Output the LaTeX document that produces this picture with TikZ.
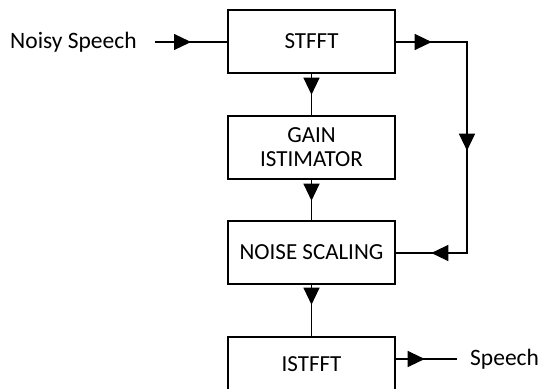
\documentclass[tikz,border=0pt]{standalone}
\usepackage{fontspec}
\setmainfont{Carlito}
\usetikzlibrary{arrows.meta,decorations.markings}

\begin{document}
\begin{tikzpicture}[x={(1pt, 0pt)}, y={(0pt, -1pt)}]
  \tikzstyle{block}=[draw, line width=1.4pt, minimum width=167pt, minimum height=63pt, inner sep=0pt, align=center, font=\fontsize{23}{24}\selectfont]
  \tikzstyle{wire}=[line width=1.2pt, postaction={decorate}]
  \tikzset{tip/.tip={Triangle[length=17pt, width=16pt]}}

\useasboundingbox (0, 0) rectangle (540, 388);

\node[block] (stfft) at (311.5, 41.5) {STFFT};
\node[block] (gain) at (311.5, 147.5) {GAIN\\ISTIMATOR};
\node[block] (ns) at (311.5, 252.5) {NOISE SCALING};
\node[block] (istfft) at (311.5, 368.5) {\raisebox{9pt}{ISTFFT}};

\node[anchor=west, inner sep=0pt, font=\fontsize{23.5}{24}\selectfont] (noisy) at (10, 42) {Noisy Speech};
\node[anchor=west, inner sep=0pt, font=\fontsize{23.5}{24}\selectfont] (speech) at (470, 359) {Speech};

\coordinate (in) at (155, 42);
\coordinate (c1) at (467, 42);
\coordinate (c2) at (467, 253);
\coordinate (out) at (457, 359);

\draw[wire, decoration={markings, mark=at position 36pt with {\arrow{tip}}}] (in) -- (stfft.west |- in);
\draw[wire, decoration={markings, mark=at position 21pt with {\arrow{tip}}}] (stfft) -- (gain);
\draw[wire, decoration={markings, mark=at position 21pt with {\arrow{tip}}}] (gain) -- (ns);
\draw[wire, decoration={markings, mark=at position 20pt with {\arrow{tip}}}] (ns) -- (istfft);
\draw[wire, decoration={markings, mark=at position 36pt with {\arrow{tip}},
    mark=at position 180pt with {\arrow{tip}}, mark=at position 318pt with {\arrow{tip}}}]
  (stfft.east |- c1) -- (c1) -- (c2) -- (ns.east |- c2);
\draw[wire, decoration={markings, mark=at position 29pt with {\arrow{tip}}}] (istfft.east |- out) -- (out);
\end{tikzpicture}
\end{document}
